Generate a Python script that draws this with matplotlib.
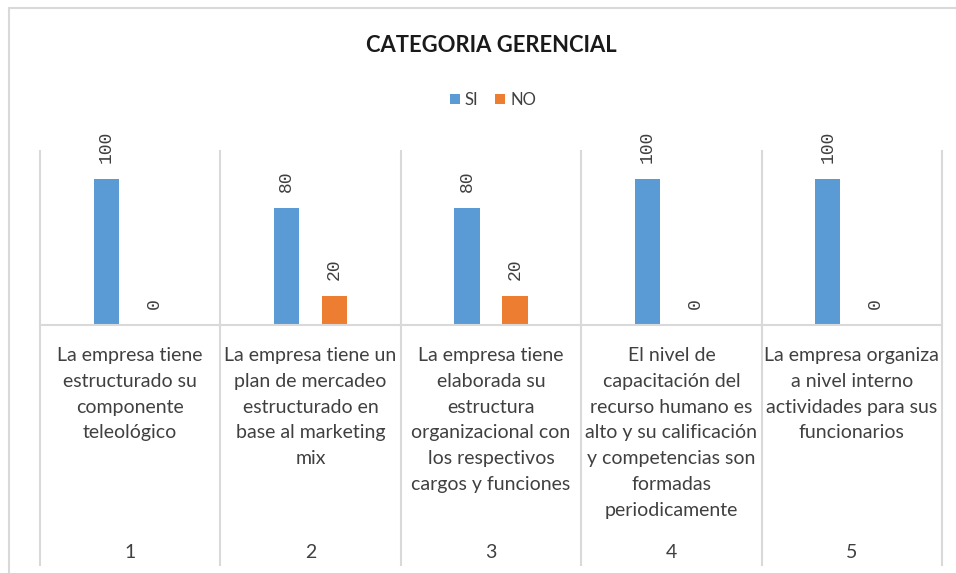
import matplotlib
matplotlib.use("Agg")
import matplotlib.pyplot as plt
import matplotlib.patches as mpatches
import numpy as np

# ---- data ----
title = "CATEGORIA GERENCIAL"
series_names = ["SI", "NO"]
si_values = [100, 80, 80, 100, 100]
no_values = [0, 20, 20, 0, 0]
category_labels = [
    "La empresa tiene\nestructurado su\ncomponente\nteleológico",
    "La empresa tiene un\nplan de mercadeo\nestructurado en\nbase al marketing\nmix",
    "La empresa tiene\nelaborada su\nestructura\norganizacional con\nlos respectivos\ncargos y funciones",
    "El nivel de\ncapacitación del\nrecurso humano es\nalto y su calificación\ny competencias son\nformadas\nperiodicamente",
    "La empresa organiza\na nivel interno\nactividades para sus\nfuncionarios",
]
group_labels = ["1", "2", "3", "4", "5"]

BLUE = "#5B9BD5"
ORANGE = "#ED7D31"
GRID = "#D9D9D9"
TXT = "#404040"
FONT = "Lato"

W, H = 956, 573
fig = plt.figure(figsize=(W / 100, H / 100), dpi=100)

# chart border
fig.patches.append(mpatches.Rectangle((9 / W, -0.05), 1.0, 1 - 8 / H + 0.05,
                                      transform=fig.transFigure, fill=False,
                                      edgecolor=GRID, linewidth=1.5))

ax_left, ax_right, ax_base, ax_top = 40, 942, 325, 150
ax = fig.add_axes([ax_left / W, 1 - ax_base / H, (ax_right - ax_left) / W,
                   (ax_base - ax_top) / H])
ax_h = ax_base - ax_top

x = np.arange(len(si_values))
bw = 0.14
off = 0.133
b1 = ax.bar(x - off, si_values, bw, color=BLUE, label=series_names[0])
b2 = ax.bar(x + off, no_values, bw, color=ORANGE, label=series_names[1])

for bars, vals in ((b1, si_values), (b2, no_values)):
    for r, v in zip(bars, vals):
        ax.annotate(str(v), (r.get_x() + r.get_width() / 2, r.get_height()),
                    xytext=(0, 11.5), textcoords="offset points",
                    rotation=90, ha="center", va="bottom",
                    fontsize=13, color=TXT, family="Liberation Mono")

ax.set_xlim(-0.5, len(x) - 0.5)
ax.set_ylim(0, 120)
for s in ("left", "right", "top"):
    ax.spines[s].set_visible(False)
ax.spines["bottom"].set_color(GRID)
ax.spines["bottom"].set_linewidth(1.5)
ax.set_xticks([])
ax.set_yticks([])
ax.patch.set_alpha(0)

tr = ax.get_xaxis_transform()
ybot = -(566 - ax_base) / ax_h
for e in np.arange(-0.5, len(x), 1.0):
    ax.plot([e, e], [1.0, ybot], transform=tr, color=GRID, lw=1.5,
            clip_on=False, solid_capstyle="butt")

for i, lab in enumerate(category_labels):
    ax.text(i, -(347 - ax_base) / ax_h, lab, transform=tr, ha="center",
            va="top", multialignment="center", fontsize=14, color=TXT,
            family=FONT, linespacing=1.63)
    ax.text(i, -(552 - ax_base) / ax_h, group_labels[i], transform=tr,
            ha="center", va="center", fontsize=14, color=TXT, family=FONT)

fig.text(491 / W, 1 - 45 / H, title, ha="center", va="center",
         fontsize=15.8, fontweight="bold", color="#1a1a1a", family=FONT)

fig.legend(handles=[b1, b2], labels=series_names, loc="center",
           bbox_to_anchor=(493 / W, 1 - 100 / H), ncol=2, frameon=False,
           handlelength=0.6, handleheight=0.6, handletextpad=0.3,
           columnspacing=1.0, prop={"family": FONT, "size": 12},
           labelcolor=TXT)

fig.savefig("out.png", dpi=100, facecolor="white")
